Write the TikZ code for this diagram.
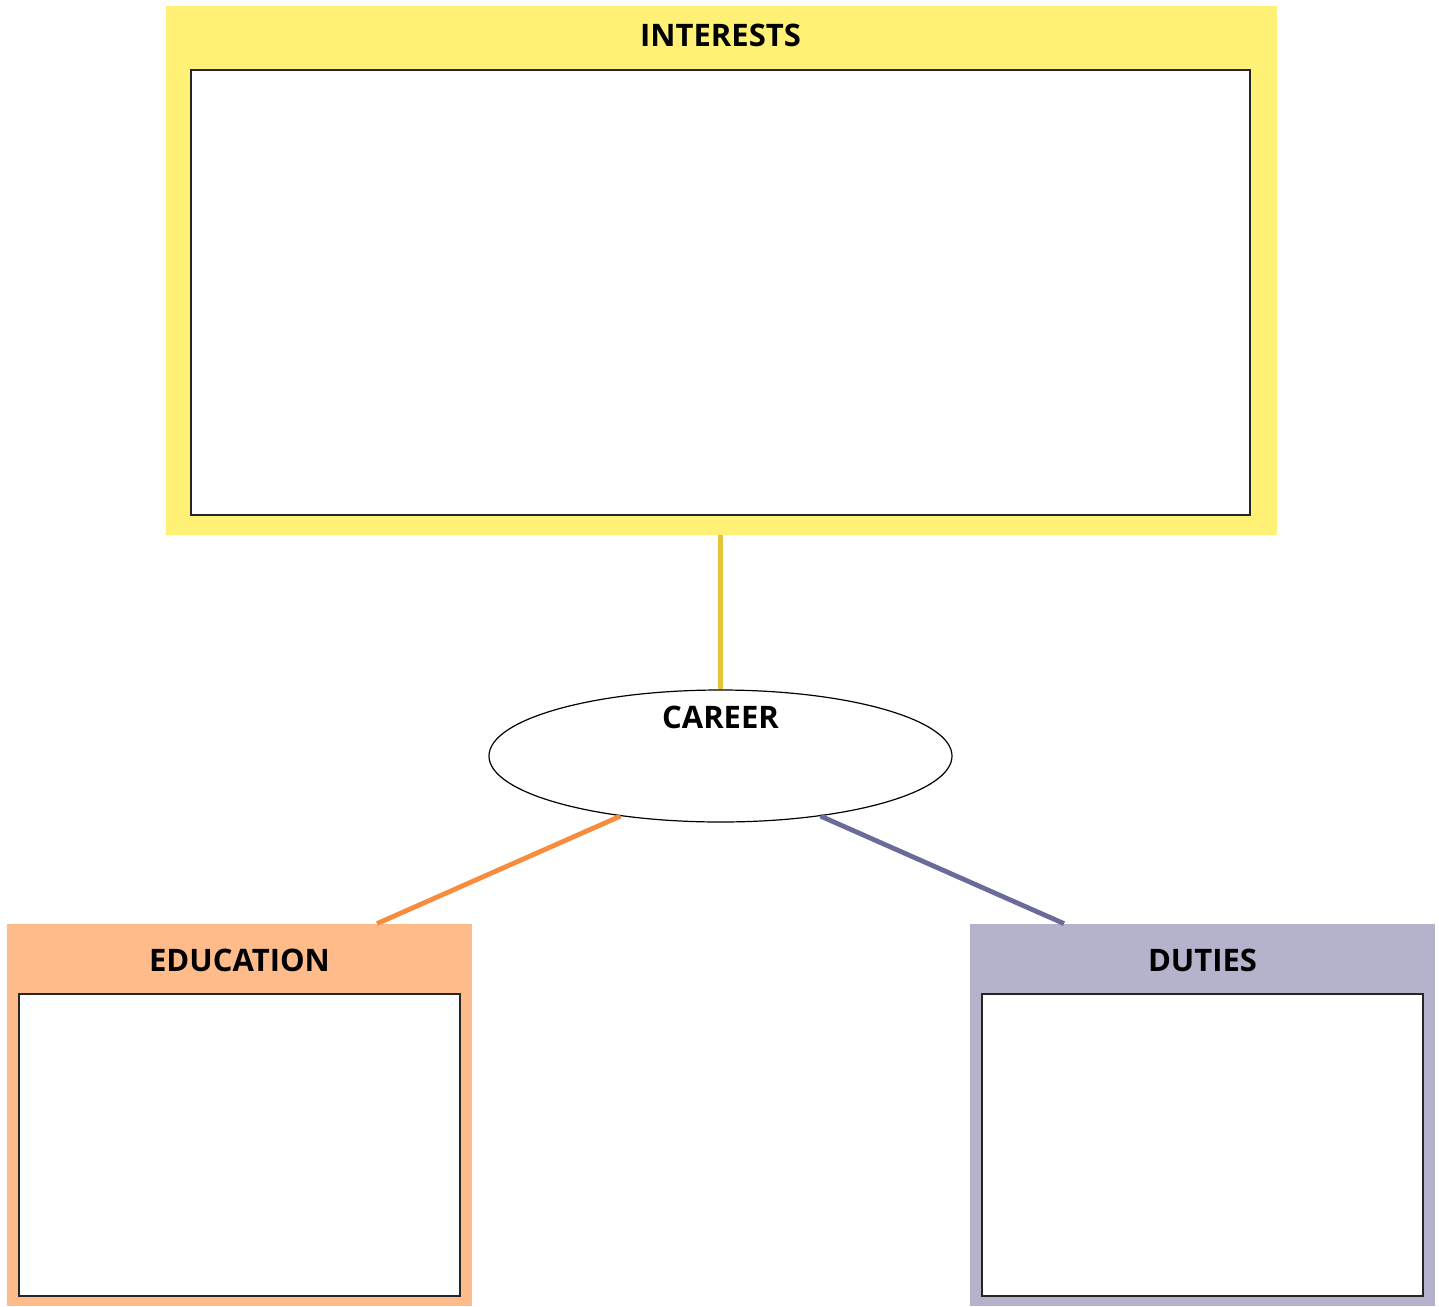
\documentclass[tikz,border=0pt]{standalone}
\usepackage{fontspec}
\setmainfont{Open Sans}
\usetikzlibrary{shapes.geometric}
\definecolor{yfill}{HTML}{FFF176}
\definecolor{ofill}{HTML}{FFBC8A}
\definecolor{pfill}{HTML}{B5B2CC}
\definecolor{yline}{HTML}{E8C33A}
\definecolor{oline}{HTML}{F98B3C}
\definecolor{pline}{HTML}{6B6B9B}
\tikzset{
  outerbox/.style={rectangle, inner sep=0pt, draw=none},
  innerbox/.style={rectangle, inner sep=0pt, draw=black!85, line width=0.75pt, fill=white},
  title/.style={font=\bfseries\fontsize{15.5}{18}\selectfont, inner sep=0pt, anchor=center},
  link/.style={line width=2.4pt},
}
\begin{document}
\begin{tikzpicture}[x=0.5pt, y=-0.5pt]
\useasboundingbox (0,0) rectangle (1439,1306);
% INTERESTS
\node[outerbox, fill=yfill, minimum width=555.5pt, minimum height=264.5pt] (intO) at (721.5,270.5) {};
\node[innerbox, minimum width=529.5pt, minimum height=222.5pt] (intI) at (720.5,292.5) {};
\node[title] (intT) at (720.5,35) {INTERESTS};
% EDUCATION
\node[outerbox, fill=ofill, minimum width=232.5pt, minimum height=191pt] (eduO) at (239.5,1115) {};
\node[innerbox, minimum width=220.5pt, minimum height=151pt] (eduI) at (239.5,1145) {};
\node[title] (eduT) at (239.5,960) {EDUCATION};
% DUTIES
\node[outerbox, fill=pfill, minimum width=232.5pt, minimum height=191pt] (dutO) at (1202.5,1115) {};
\node[innerbox, minimum width=220.5pt, minimum height=151pt] (dutI) at (1202.5,1145) {};
\node[title] (dutT) at (1202.5,960) {DUTIES};
% CAREER
\node[ellipse, draw=black, line width=0.6pt, fill=white, inner sep=0pt, minimum width=231.5pt, minimum height=66pt] (car) at (720.5,756) {};
\node[title] (carT) at (720.5,717) {CAREER};
% connectors
\draw[link, yline] (intO.south -| car.north) -- (car.north);
\draw[link, oline] (car.211) -- ([xshift=68.75pt]eduO.north);
\draw[link, pline] (car.329.5) -- ([xshift=-69.25pt]dutO.north);
\end{tikzpicture}
\end{document}
